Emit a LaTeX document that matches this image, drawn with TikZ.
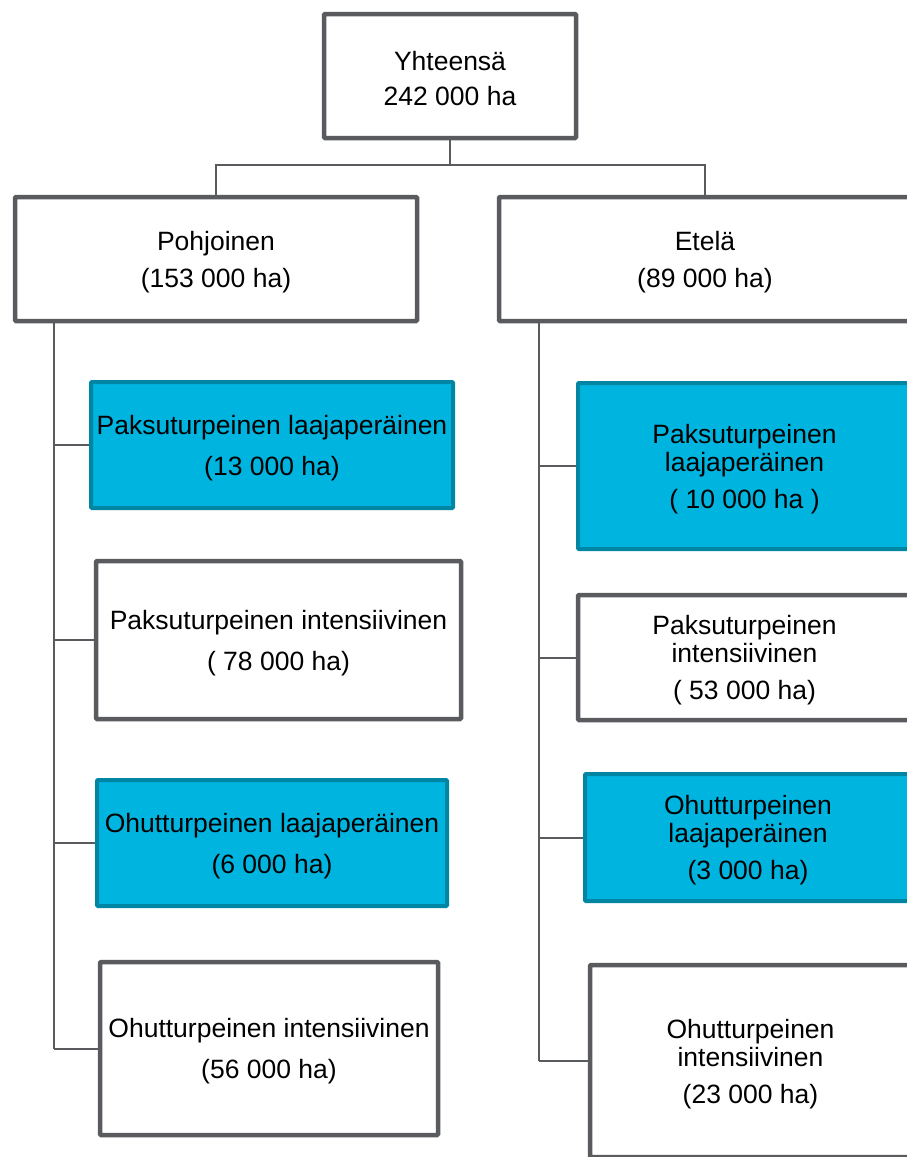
\documentclass[tikz,border=0pt]{standalone}
\usepackage{fontspec}
\setmainfont{Liberation Sans}
\definecolor{gline}{HTML}{595B5E}
\definecolor{bfill}{HTML}{00B4E0}
\definecolor{bline}{HTML}{0085A3}
\tikzset{
  whitebox/.style={draw=gline, line width=4.5pt, fill=white, rounded corners=1pt, inner sep=0pt},
  bluebox/.style={draw=bline, line width=4pt, fill=bfill, rounded corners=1pt, inner sep=0pt},
  txt/.style={align=center, inner sep=0pt, yshift=-3pt, font=\fontsize{26.5}{28}\selectfont},
  conn/.style={draw=gline, line width=2pt}
}
\begin{document}
\begin{tikzpicture}[x=1pt,y=-1pt]
\useasboundingbox (0,0) rectangle (907,1157);
\clip (0,0) rectangle (907,1157);
\fill[white] (0,0) rectangle (907,1157);
% top
\node[whitebox, minimum width=252pt, minimum height=124pt, label={[txt]center:{Yhteensä\\[7pt]242 000 ha}}] (top) at (450,76) {};
\node[whitebox, minimum width=402pt, minimum height=124pt, label={[txt]center:{Pohjoinen\\[9pt](153 000 ha)}}] (pn) at (216,259) {};
\node[whitebox, minimum width=412pt, minimum height=124pt, label={[txt]center:{Etelä\\[9pt](89 000 ha)}}] (et) at (705,259) {};
% left column
\node[bluebox, minimum width=362pt, minimum height=126pt, label={[txt]center:{Paksuturpeinen laajaperäinen\\[13pt](13 000 ha)}}] (l1) at (272,445) {};
\node[whitebox, minimum width=365pt, minimum height=158pt, label={[txt]center:{Paksuturpeinen intensiivinen\\[13pt]( 78 000 ha)}}] (l2) at (278.5,640) {};
\node[bluebox, minimum width=350pt, minimum height=126pt, label={[txt]center:{Ohutturpeinen laajaperäinen\\[13pt](6 000 ha)}}] (l3) at (272,843) {};
\node[whitebox, minimum width=338pt, minimum height=173pt, label={[txt]center:{Ohutturpeinen intensiivinen\\[13pt](56 000 ha)}}] (l4) at (269,1048.5) {};
% right column
\node[bluebox, minimum width=333pt, minimum height=166pt, label={[txt]center:{Paksuturpeinen\\laajaperäinen\\[9pt]( 10 000 ha )}}] (r1) at (744.5,466) {};
\node[whitebox, minimum width=333pt, minimum height=125pt, label={[txt]center:{Paksuturpeinen\\intensiivinen\\[9pt]( 53 000 ha)}}] (r2) at (744.5,657.5) {};
\node[bluebox, minimum width=326pt, minimum height=127pt, label={[txt]center:{Ohutturpeinen\\laajaperäinen\\[9pt](3 000 ha)}}] (r3) at (748,837.5) {};
\node[whitebox, minimum width=321pt, minimum height=192pt, label={[txt]center:{Ohutturpeinen\\intensiivinen\\[9pt](23 000 ha)}}] (r4) at (750.5,1061) {};
% connectors
\coordinate (bus) at (0,165);
\coordinate (lx) at (54,0);
\coordinate (rx) at (539,0);
\draw[conn] (top.south) -- (top.south |- bus) -| (pn.north);
\draw[conn] (top.south |- bus) -| (et.north);
\draw[conn] (pn.south -| lx) -- (lx |- l4.west);
\foreach \n in {l1,l2,l3,l4} \draw[conn] (lx |- \n.west) -- (\n.west);
\draw[conn] (et.south -| rx) -- (rx |- r4.west);
\foreach \n in {r1,r2,r3,r4} \draw[conn] (rx |- \n.west) -- (\n.west);
\end{tikzpicture}
\end{document}
